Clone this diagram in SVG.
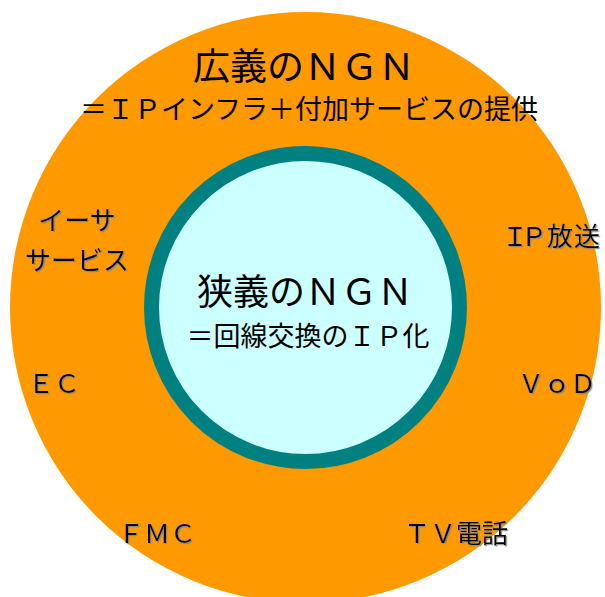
<svg xmlns="http://www.w3.org/2000/svg" width="605" height="597" viewBox="0 0 605 597">
<defs>
<filter id="sh" x="-10%" y="-20%" width="130%" height="150%">
<feDropShadow dx="1.2" dy="1.2" stdDeviation="0.4" flood-color="#888888" flood-opacity="0.9"/>
</filter>
</defs>
<style>
text{font-family:"Noto Sans CJK JP","Noto Sans CJK SC",sans-serif;fill:#000;text-anchor:middle}
.lbl{font-size:26px;filter:url(#sh)}
</style>
<rect width="605" height="597" fill="#ffffff"/>
<g id="broad">
<circle cx="305.5" cy="307.5" r="295.5" fill="#ff9900"/>
<text x="304" y="80" font-size="37">広義のＮＧＮ</text>
<text x="309" y="119" font-size="27">＝ＩＰインフラ＋付加サービスの提供</text>
</g>
<g id="narrow">
<circle cx="305.5" cy="307.5" r="154" fill="#ccffff" stroke="#008080" stroke-width="15"/>
<text x="305" y="305" font-size="36">狭義のＮＧＮ</text>
<text x="308" y="346" font-size="27">＝回線交換のＩＰ化</text>
</g>
<g id="ether"><text class="lbl" x="77" y="230">イーサ</text><text class="lbl" x="77" y="270">サービス</text></g>
<g id="ec"><text class="lbl" x="54" y="393">ＥＣ</text></g>
<g id="fmc"><text class="lbl" x="157" y="543">ＦＭＣ</text></g>
<g id="tvphone"><text class="lbl" x="456" y="543">ＴＶ電話</text></g>
<g id="vod"><text class="lbl" x="557" y="393">ＶｏＤ</text></g>
<g id="iptv"><text class="lbl" x="515 534 560 587" y="246">ＩＰ放送</text></g>
<g id="connectors"></g>
</svg>
